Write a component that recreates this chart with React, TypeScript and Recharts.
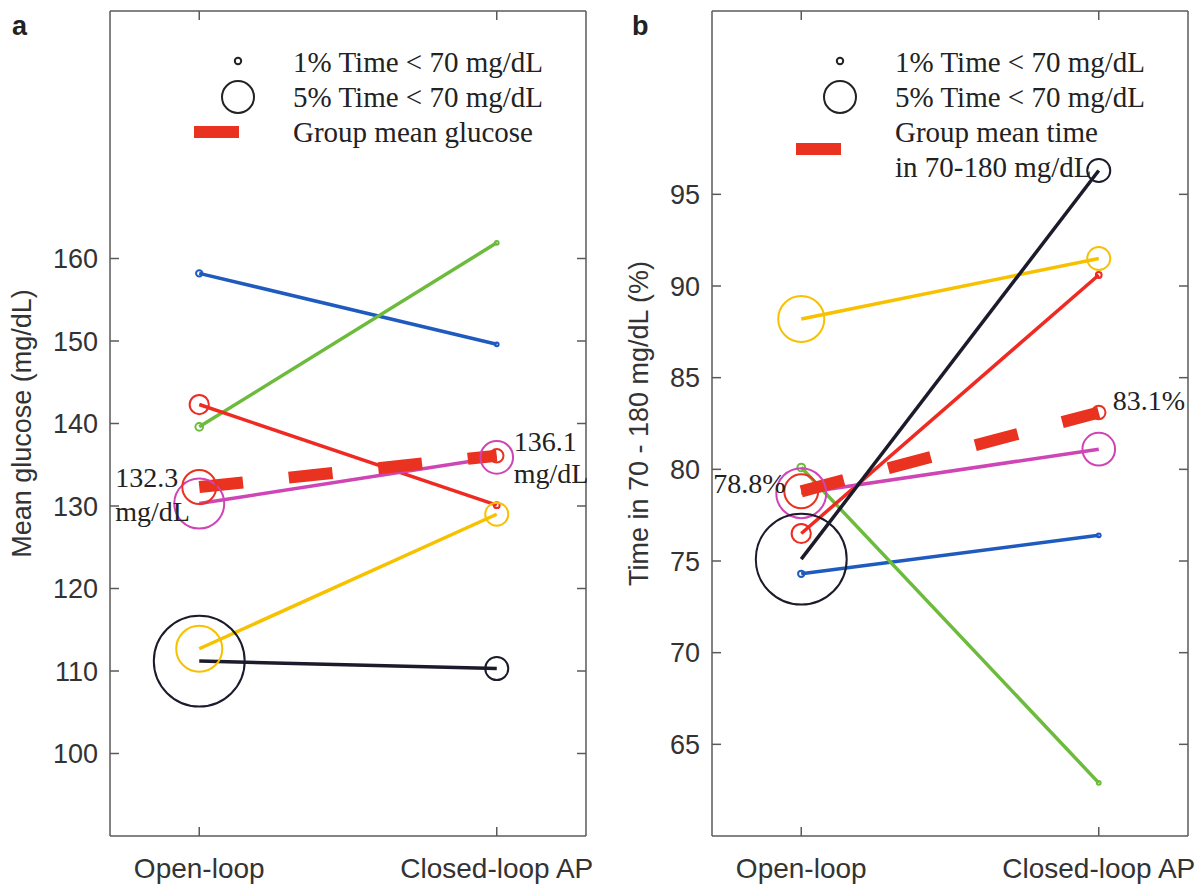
import React from 'react'
import { LineChart, Line, XAxis, YAxis, ReferenceLine } from 'recharts'

// x positions 1 = open-loop, 2 = closed-loop
const CATEGORIES = ['Open-loop', 'Closed-loop AP']

// one colour per subject: blue, green, red, magenta, yellow, black
const SUBJECT_COLORS = ['#1f5bbf', '#6dbb3c', '#ef2a22', '#cf45b5', '#f7c100', '#1b1b2b']
const MEAN_COLOR = '#e9321f'

const GLUCOSE_OPEN = [158.2, 139.6, 142.3, 130.3, 112.7, 111.2]
const GLUCOSE_CLOSED = [149.6, 161.9, 130.1, 135.9, 129.0, 110.3]
const MEAN_GLUCOSE = [132.3, 136.1]

const TIR_OPEN = [74.3, 80.1, 76.5, 78.7, 88.2, 75.1]
const TIR_CLOSED = [76.4, 62.9, 90.6, 81.1, 91.5, 96.3]
const MEAN_TIR = [78.8, 83.1]

// % time < 70 mg/dL, drawn as circle size
const HYPO_OPEN = [1.0, 1.2, 3.0, 7.8, 7.2, 14.2]
const HYPO_CLOSED = [0.6, 0.6, 0.9, 5.1, 3.6, 3.6]
const MEAN_HYPO = [5.3, 2.1]

const GLUCOSE_TICKS = [100, 110, 120, 130, 140, 150, 160]
const TIR_TICKS = [65, 70, 75, 80, 85, 90, 95]

const R_PER_PCT = 3.2
const AXIS = '#5a5a5a'
const SANS = '"Liberation Sans", Arial, sans-serif'
const SERIF = '"Liberation Serif", "Times New Roman", serif'
const TOP = 11
const TICK_LEN = 9
const Y_MARGIN = 12
const X_MARGIN = 22

type Note = { lines: string[]; dx: number; dy: number[] }

// y tick: label outside, inward ticks on both left and right edges
function YTick({ x, y, payload, plotRight }: any) {
  const left = x + Y_MARGIN
  return (
    <g>
      <text x={x} y={y} dy="0.355em" textAnchor="end" fill="#333" fontSize={27} fontFamily={SANS}>{payload.value}</text>
      <line x1={left} x2={left + TICK_LEN} y1={y} y2={y} stroke={AXIS} strokeWidth={1.5} />
      <line x1={plotRight - TICK_LEN} x2={plotRight} y1={y} y2={y} stroke={AXIS} strokeWidth={1.5} />
    </g>
  )
}

// x tick: label below, inward ticks on bottom and top edges
function XTick({ x, y, payload }: any) {
  const bottom = y - X_MARGIN
  return (
    <g>
      <text x={x} y={y} dy="0.71em" textAnchor="middle" fill="#333" fontSize={28} fontFamily={SANS}>
        {CATEGORIES[payload.value - 1]}
      </text>
      <line x1={x} x2={x} y1={bottom} y2={bottom - TICK_LEN} stroke={AXIS} strokeWidth={1.5} />
      <line x1={x} x2={x} y1={TOP} y2={TOP + TICK_LEN} stroke={AXIS} strokeWidth={1.5} />
    </g>
  )
}

function Panel({ open, closed, mean, ticks, domain, yLabel, labelX, right, axisWidth, notes }: {
  open: number[]; closed: number[]; mean: number[]; ticks: number[]; domain: [number, number]
  yLabel: string; labelX: number; right: number; axisWidth: number; notes: Note[]
}) {
  const series = open.map((v, i) => [
    { x: 1, y: v, h: HYPO_OPEN[i] },
    { x: 2, y: closed[i], h: HYPO_CLOSED[i] },
  ])
  const meanData = mean.map((v, i) => ({ x: i + 1, y: v, h: MEAN_HYPO[i] }))
  const plotRight = 600 - right
  const edge = { stroke: AXIS, strokeWidth: 1.5 }

  return (
    <LineChart width={600} height={886} margin={{ top: TOP, right, bottom: 0, left: 0 }}>
      <XAxis xAxisId="b" dataKey="x" type="number" domain={[0.7, 2.3]} ticks={[1, 2]}
        height={50} tickLine={false} tickSize={0} tickMargin={X_MARGIN} axisLine={edge} tick={<XTick />} />
      <YAxis yAxisId="l" type="number" domain={domain} ticks={ticks} width={axisWidth}
        tickLine={false} tickSize={0} tickMargin={Y_MARGIN} axisLine={edge} tick={<YTick plotRight={plotRight} />}
        label={(p: any) => {
          const vb = p.viewBox || {}
          const x = vb.x + labelX
          const y = vb.y + vb.height / 2
          return (
            <text x={x} y={y} transform={`rotate(-90, ${x}, ${y})`} textAnchor="middle"
              fill="#333" fontSize={27} fontFamily={SANS}>{yLabel}</text>
          )
        }} />
      <ReferenceLine xAxisId="b" yAxisId="l" x={2.3} {...edge} />
      <ReferenceLine xAxisId="b" yAxisId="l" y={domain[1]} {...edge} />

      {series.map((d, i) => (
        <Line key={i} xAxisId="b" yAxisId="l" data={d} dataKey="y" stroke={SUBJECT_COLORS[i]} strokeWidth={3.5}
          isAnimationActive={false} activeDot={false}
          dot={(p: any) => (
            <circle key={`d${i}-${p.index}`} cx={p.cx} cy={p.cy} r={d[p.index].h * R_PER_PCT}
              stroke={SUBJECT_COLORS[i]} strokeWidth={2} fill="none" />
          )} />
      ))}

      <Line xAxisId="b" yAxisId="l" data={meanData} dataKey="y" stroke={MEAN_COLOR} strokeWidth={12}
        strokeDasharray="44 46" strokeLinecap="butt" isAnimationActive={false} activeDot={false}
        dot={(p: any) => {
          const n = notes[p.index]
          return (
            <g key={`m${p.index}`}>
              <circle cx={p.cx} cy={p.cy} r={meanData[p.index].h * R_PER_PCT} stroke={MEAN_COLOR} strokeWidth={2} fill="none" />
              {n.lines.map((t, k) => (
                <text key={k} x={p.cx + n.dx} y={p.cy + n.dy[k]} fill="#222" fontSize={28} fontFamily={SERIF}>{t}</text>
              ))}
            </g>
          )
        }} />
    </LineChart>
  )
}

function LegendBox({ x, lines }: { x: number; lines: string[] }) {
  const textStyle = { fill: '#222', fontSize: 29, fontFamily: SERIF }
  return (
    <g>
      <circle cx={x} cy={61} r={1 * R_PER_PCT} stroke="#222" strokeWidth={2} fill="none" />
      <circle cx={x} cy={97} r={5 * R_PER_PCT} stroke="#222" strokeWidth={2} fill="none" />
      <rect x={x - 44} y={lines.length > 3 ? 143 : 126} width={45} height={12} fill={MEAN_COLOR} />
      {lines.map((t, k) => (
        <text key={k} x={x + 55} y={72 + k * 35} {...textStyle}>{t}</text>
      ))}
    </g>
  )
}

export default function App() {
  return (
    <div style={{ position: 'absolute', left: 0, top: 0, width: 1200, height: 886, background: '#fff' }}>
      <div style={{ position: 'absolute', left: 0, top: 0 }}>
        <Panel open={GLUCOSE_OPEN} closed={GLUCOSE_CLOSED} mean={MEAN_GLUCOSE} ticks={GLUCOSE_TICKS}
          domain={[90, 190]} yLabel="Mean glucose (mg/dL)" labelX={31} right={14} axisWidth={110}
          notes={[
            { lines: ['132.3', 'mg/dL'], dx: -84, dy: [0, 34] },
            { lines: ['136.1', 'mg/dL'], dx: 17, dy: [-5, 27] },
          ]} />
      </div>
      <div style={{ position: 'absolute', left: 600, top: 0 }}>
        <Panel open={TIR_OPEN} closed={TIR_CLOSED} mean={MEAN_TIR} ticks={TIR_TICKS}
          domain={[60, 105]} yLabel="Time in 70 - 180 mg/dL (%)" labelX={48} right={12} axisWidth={112}
          notes={[
            { lines: ['78.8%'], dx: -88, dy: [2] },
            { lines: ['83.1%'], dx: 14, dy: [-3] },
          ]} />
      </div>
      <svg width={1200} height={886} style={{ position: 'absolute', left: 0, top: 0, pointerEvents: 'none' }}>
        <text x={12} y={35} fontSize={27} fontWeight="bold" fontFamily={SANS} fill="#222">a</text>
        <text x={632} y={35} fontSize={27} fontWeight="bold" fontFamily={SANS} fill="#222">b</text>
        <LegendBox x={238} lines={['1% Time < 70 mg/dL', '5% Time < 70 mg/dL', 'Group mean glucose']} />
        <LegendBox x={840} lines={['1% Time < 70 mg/dL', '5% Time < 70 mg/dL', 'Group mean time', 'in 70-180 mg/dL']} />
      </svg>
    </div>
  )
}
